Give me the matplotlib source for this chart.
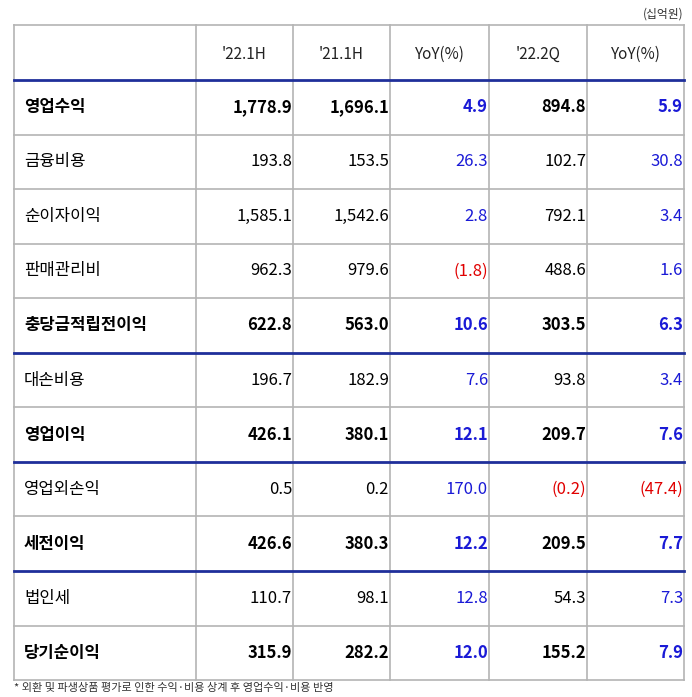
import matplotlib.pyplot as plt

plt.rcParams['font.family'] = ['Noto Sans CJK JP', 'Noto Sans CJK KR', 'DejaVu Sans']

headers = ["'22.1H", "'21.1H", 'YoY(%)', "'22.2Q", 'YoY(%)']
items = ['영업수익', '금융비용', '순이자이익', '판매관리비', '충당금적립전이익',
         '대손비용', '영업이익', '영업외손익', '세전이익', '법인세', '당기순이익']
h22 = ['1,778.9', '193.8', '1,585.1', '962.3', '622.8', '196.7', '426.1', '0.5', '426.6', '110.7', '315.9']
h21 = ['1,696.1', '153.5', '1,542.6', '979.6', '563.0', '182.9', '380.1', '0.2', '380.3', '98.1', '282.2']
yoy_h = ['4.9', '26.3', '2.8', '(1.8)', '10.6', '7.6', '12.1', '170.0', '12.2', '12.8', '12.0']
q22 = ['894.8', '102.7', '792.1', '488.6', '303.5', '93.8', '209.7', '(0.2)', '209.5', '54.3', '155.2']
yoy_q = ['5.9', '30.8', '3.4', '1.6', '6.3', '3.4', '7.6', '(47.4)', '7.7', '7.3', '7.9']
bold_rows = [0, 4, 6, 8, 10]
blue_after = [0, 5, 7, 9]  # blue rule above these data rows

fig = plt.figure(figsize=(6.92, 6.97), dpi=100)
ax = fig.add_axes([0, 0, 1, 1])
ax.set_xlim(0, 692)
ax.set_ylim(697, 0)
ax.axis('off')

cols = [14, 196, 293, 390, 489, 587, 684]
top, head_bot, row_h = 25, 80, 54.55
n = len(items)
bottom = head_bot + n * row_h

gray = '#b4b4b4'
blue_line = '#1f2f9a'
for x in cols:
    ax.plot([x, x], [top, bottom], color=gray, lw=1.2)
ax.plot([cols[0], cols[-1]], [top, top], color=gray, lw=1.2)
ax.plot([cols[0], cols[-1]], [head_bot, head_bot], color=blue_line, lw=2)
for i in range(1, n + 1):
    y = head_bot + i * row_h
    is_blue = i in blue_after
    ax.plot([cols[0], cols[-1]], [y, y], color=blue_line if is_blue else gray,
            lw=2 if is_blue else 1.2, zorder=3 if is_blue else 2)

ax.text(684, 14, '(십억원)', ha='right', va='center', fontsize=8.5, color='#333333')
for j, h in enumerate(headers):
    ax.text((cols[j + 1] + cols[j + 2]) / 2, (top + head_bot) / 2 + 2, h,
            ha='center', va='center', fontsize=11, color='#222222')

def num_color(s, yoy):
    if s.startswith('('):
        return '#e00000'
    return '#1a1ad6' if yoy else 'black'

for i in range(n):
    yc = head_bot + (i + 0.5) * row_h
    fw = 'bold' if i in bold_rows else 'normal'
    ax.text(24, yc, items[i], ha='left', va='center', fontsize=12, fontweight=fw, color='black')
    vals = [(h22[i], False), (h21[i], False), (yoy_h[i], True), (q22[i], False), (yoy_q[i], True)]
    for j, (v, yy) in enumerate(vals):
        ax.text(cols[j + 2] - 1, yc, v, ha='right', va='center', fontsize=12,
                fontweight=fw, color=num_color(v, yy))

ax.text(14, 688, '* 외환 및 파생상품 평가로 인한 수익·비용 상계 후 영업수익·비용 반영',
        ha='left', va='center', fontsize=8, color='#333333')

fig.savefig('out.png', dpi=100)
